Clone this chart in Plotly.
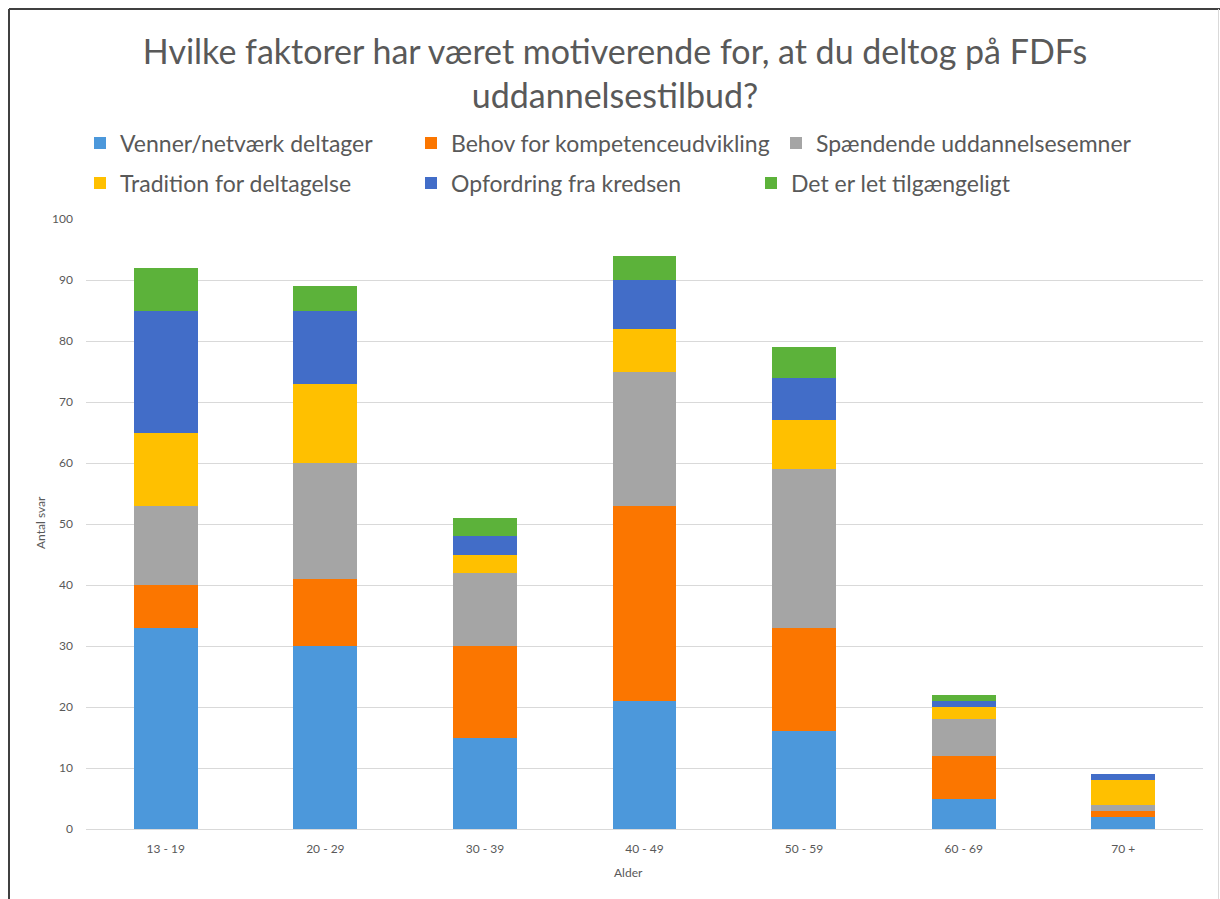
import plotly.graph_objects as go

categories = ["13 - 19", "20 - 29", "30 - 39", "40 - 49", "50 - 59", "60 - 69", "70 +"]

venner = [33, 30, 15, 21, 16, 5, 2]
behov = [7, 11, 15, 32, 17, 7, 1]
spaendende = [13, 19, 12, 22, 26, 6, 1]
tradition = [12, 13, 3, 7, 8, 2, 4]
opfordring = [20, 12, 3, 8, 7, 1, 1]
let_tilg = [7, 4, 3, 4, 5, 1, 0]

series_names = [
    "Venner/netværk deltager",
    "Behov for kompetenceudvikling",
    "Spændende uddannelsesemner",
    "Tradition for deltagelse",
    "Opfordring fra kredsen",
    "Det er let tilgængeligt",
]
series_values = [venner, behov, spaendende, tradition, opfordring, let_tilg]
colors = ["#4C98DB", "#FB7600", "#A5A5A5", "#FFC000", "#426DC8", "#5CB23A"]

W, H = 1220, 899
L, R, T, B = 86, 17, 219, 70
PW, PH = W - L - R, H - T - B

def px_x(p):
    return (p - L) / PW

def px_y(p):
    return (H - B - p) / PH

FONT = "Lato, sans-serif"
TXT = "#595959"

# legend positions (pixel left of legend box, pixel y center)
leg_pos = [(80, 143), (411, 143), (776, 143), (80, 183), (411, 183), (751, 183)]
legend_ids = ["legend", "legend2", "legend3", "legend4", "legend5", "legend6"]

fig = go.Figure()
for name, vals, col, lid in zip(series_names, series_values, colors, legend_ids):
    fig.add_trace(go.Bar(
        x=categories, y=vals, name=name,
        marker=dict(color=col, line=dict(width=0)),
        legend=lid,
    ))

layout_legends = {}
for lid, (lx, ly) in zip(legend_ids, leg_pos):
    layout_legends[lid] = dict(
        x=px_x(lx), y=px_y(ly), xanchor="left", yanchor="middle",
        font=dict(family=FONT, size=23, color=TXT),
        bgcolor="rgba(0,0,0,0)", itemwidth=30,
    )

fig.update_layout(
    width=W, height=H,
    margin=dict(l=L, r=R, t=T, b=B, autoexpand=False),
    paper_bgcolor="white", plot_bgcolor="white",
    barmode="stack", bargap=0.6,
    showlegend=True,
    title=dict(
        text="Hvilke faktorer har været motiverende for, at du deltog på FDFs<br>uddannelsestilbud?",
        x=615 / W, xref="container", xanchor="center",
        y=1 - 64 / H, yref="container", yanchor="middle",
        font=dict(family=FONT, size=34, color=TXT),
    ),
    font=dict(family=FONT, color=TXT),
    **layout_legends,
)

fig.update_yaxes(
    range=[0, 100], dtick=10, showgrid=True, gridcolor="#D9D9D9", gridwidth=1,
    zeroline=False, showline=False,
    tickfont=dict(family=FONT, size=12, color=TXT),
    ticklabelstandoff=12,
)
fig.update_xaxes(
    showline=True, linecolor="#D9D9D9", linewidth=1,
    tickfont=dict(family=FONT, size=12, color=TXT),
    ticklabelstandoff=9,
)

fig.add_annotation(text="Antal svar", xref="paper", yref="paper",
                   x=px_x(40), y=px_y(523), textangle=-90, showarrow=False,
                   xanchor="center", yanchor="middle",
                   font=dict(family=FONT, size=12, color=TXT))
fig.add_annotation(text="Alder", xref="paper", yref="paper",
                   x=px_x(628), y=px_y(872), showarrow=False,
                   xanchor="center", yanchor="middle",
                   font=dict(family=FONT, size=12, color=TXT))

# chart frame lines
fig.add_shape(type="line", xref="paper", yref="paper",
              x0=px_x(9), x1=px_x(1220), y0=px_y(9), y1=px_y(9),
              line=dict(color="#404040", width=2))
fig.add_shape(type="line", xref="paper", yref="paper",
              x0=px_x(9), x1=px_x(9), y0=px_y(9), y1=px_y(899),
              line=dict(color="#404040", width=2))
fig.add_shape(type="line", xref="paper", yref="paper",
              x0=px_x(1218.5), x1=px_x(1218.5), y0=px_y(9), y1=px_y(899),
              line=dict(color="#D9D9D9", width=1))

fig.write_html("out.html", config={"displayModeBar": False},
               post_script="document.body.style.margin='0px';document.body.style.overflow='hidden';")
